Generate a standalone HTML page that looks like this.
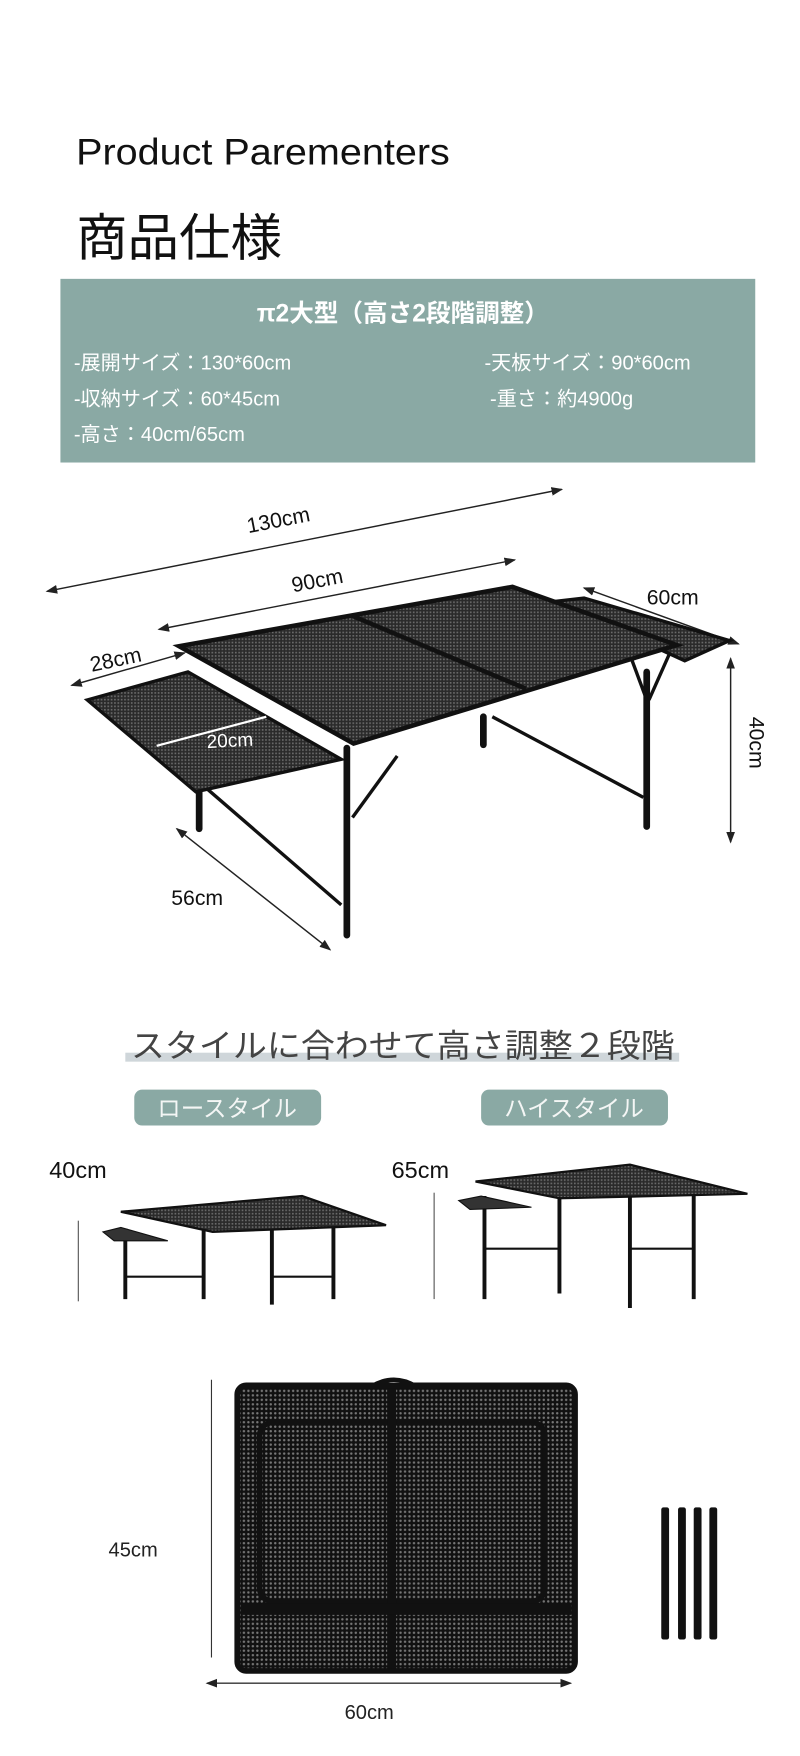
<!DOCTYPE html>
<html><head><meta charset="utf-8"><style>
html,body{margin:0;padding:0;background:#fff;}
svg{display:block;}
text{font-family:"Liberation Sans","Noto Sans CJK JP",sans-serif;}
</style></head><body>
<svg width="800" height="1756" viewBox="0 0 715 1568" preserveAspectRatio="none" xmlns="http://www.w3.org/2000/svg">
<defs>
<pattern id="mesh" width="3" height="3" patternUnits="userSpaceOnUse"><rect width="3" height="3" fill="#2a2a2a"/><rect width="1.5" height="1.5" fill="#6a6a6a"/></pattern>
<pattern id="mesh2" width="4" height="4" patternUnits="userSpaceOnUse"><rect width="4" height="4" fill="#111"/><circle cx="2" cy="2" r="1.1" fill="#777"/></pattern>
<marker id="ar" markerWidth="8" markerHeight="8" refX="7" refY="4" orient="auto"><path d="M0,1 L8,4 L0,7z" fill="#222"/></marker>
<marker id="al" markerWidth="8" markerHeight="8" refX="1" refY="4" orient="auto"><path d="M8,1 L0,4 L8,7z" fill="#222"/></marker>
</defs>
<rect width="715" height="1568" fill="#fff"/>
<text x="68" y="147" font-size="33" fill="#111" textLength="334" lengthAdjust="spacingAndGlyphs">Product Parementers</text>
<text x="68" y="228" font-size="45" fill="#111" textLength="184" lengthAdjust="spacingAndGlyphs">商品仕様</text>
<rect x="54" y="249" width="621" height="164" fill="#8aa9a4"/>
<text x="360" y="287" font-size="22" font-weight="bold" fill="#fff" text-anchor="middle">π2大型（高さ2段階調整）</text>
<g font-size="18" fill="#fff">
<text x="66" y="330">-展開サイズ：130*60cm</text>
<text x="433" y="330">-天板サイズ：90*60cm</text>
<text x="66" y="362">-収納サイズ：60*45cm</text>
<text x="438" y="362">-重さ：約4900g</text>
<text x="66" y="394">-高さ：40cm/65cm</text>
</g>
<g stroke="#222" stroke-width="1.3" fill="none">
<line x1="42" y1="528" x2="502" y2="437" marker-start="url(#al)" marker-end="url(#ar)"/>
<line x1="142" y1="562" x2="460" y2="500" marker-start="url(#al)" marker-end="url(#ar)"/>
<line x1="522" y1="525" x2="660" y2="575" marker-start="url(#al)" marker-end="url(#ar)"/>
<line x1="64" y1="612" x2="165" y2="583" marker-start="url(#al)" marker-end="url(#ar)"/>
<line x1="653" y1="588" x2="653" y2="752" marker-start="url(#al)" marker-end="url(#ar)"/>
<line x1="158" y1="740" x2="295" y2="848" marker-start="url(#al)" marker-end="url(#ar)"/>
</g>
<g font-size="19" fill="#111">
<text x="222" y="476" transform="rotate(-11 222 476)">130cm</text>
<text x="262" y="529" transform="rotate(-11 262 529)">90cm</text>
<text x="578" y="540">60cm</text>
<text x="82" y="600" transform="rotate(-12 82 600)">28cm</text>
<text x="153" y="808">56cm</text>
<text x="670" y="640" transform="rotate(90 670 640)">40cm</text>
</g>
<g stroke="#111" stroke-width="6" stroke-linecap="round">
<line x1="178" y1="705" x2="178" y2="740"/>
<line x1="310" y1="668" x2="310" y2="835"/>
<line x1="432" y1="640" x2="432" y2="665"/>
<line x1="578" y1="600" x2="578" y2="738"/>
</g>
<g stroke="#111" stroke-width="3">
<line x1="180" y1="700" x2="305" y2="808"/>
<line x1="440" y1="640" x2="575" y2="712"/>
<line x1="355" y1="675" x2="315" y2="730"/>
<line x1="565" y1="590" x2="578" y2="625"/>
<line x1="600" y1="580" x2="580" y2="625"/>
</g>
<polygon points="78,625 168,600 305,678 175,707" fill="url(#mesh)" stroke="#111" stroke-width="3"/>
<polygon points="496,537 522,534 652,572 612,590" fill="url(#mesh)" stroke="#111" stroke-width="3"/>
<polygon points="160,577 458,524 605,576 316,664" fill="url(#mesh)" stroke="#111" stroke-width="4"/>
<line x1="315" y1="550" x2="470" y2="615" stroke="#111" stroke-width="4"/>
<line x1="140" y1="666" x2="238" y2="640" stroke="#fff" stroke-width="2"/>
<text x="185" y="668" font-size="17" fill="#fff" transform="rotate(-3 185 668)">20cm</text>
<rect x="112" y="940" width="495" height="8" fill="#cfd6da"/>
<text x="360" y="944" font-size="29" fill="#444" text-anchor="middle" textLength="486" lengthAdjust="spacingAndGlyphs">スタイルに合わせて高さ調整２段階</text>
<rect x="120" y="973" width="167" height="32" rx="7" fill="#8aa9a4"/>
<text x="203" y="997" font-size="21" fill="#f4f6f5" text-anchor="middle">ロースタイル</text>
<rect x="430" y="973" width="167" height="32" rx="7" fill="#8aa9a4"/>
<text x="513" y="997" font-size="21" fill="#f4f6f5" text-anchor="middle">ハイスタイル</text>
<text x="44" y="1052" font-size="21" fill="#111">40cm</text>
<text x="350" y="1052" font-size="21" fill="#111">65cm</text>
<line x1="70" y1="1090" x2="70" y2="1162" stroke="#555" stroke-width="1"/>
<line x1="388" y1="1065" x2="388" y2="1160" stroke="#555" stroke-width="1"/>
<g stroke="#111" stroke-width="3.5">
<line x1="112" y1="1097" x2="112" y2="1160"/><line x1="182" y1="1097" x2="182" y2="1160"/>
<line x1="243" y1="1085" x2="243" y2="1165"/><line x1="298" y1="1090" x2="298" y2="1160"/>
<line x1="112" y1="1140" x2="182" y2="1140" stroke-width="2"/><line x1="243" y1="1140" x2="298" y2="1140" stroke-width="2"/>
</g>
<polygon points="92,1100 108,1096 150,1108 102,1108" fill="#333" stroke="#111"/>
<polygon points="108,1082 270,1068 345,1094 190,1100" fill="url(#mesh)" stroke="#111" stroke-width="2"/>
<g stroke="#111" stroke-width="3.5">
<line x1="433" y1="1068" x2="433" y2="1160"/><line x1="500" y1="1068" x2="500" y2="1155"/>
<line x1="563" y1="1055" x2="563" y2="1168"/><line x1="620" y1="1060" x2="620" y2="1160"/>
<line x1="433" y1="1115" x2="500" y2="1115" stroke-width="2"/><line x1="563" y1="1115" x2="620" y2="1115" stroke-width="2"/>
</g>
<polygon points="410,1072 430,1068 475,1078 420,1080" fill="#333" stroke="#111"/>
<polygon points="425,1055 563,1040 668,1066 500,1070" fill="url(#mesh)" stroke="#111" stroke-width="2"/>
<line x1="189" y1="1232" x2="189" y2="1480" stroke="#333" stroke-width="1"/>
<line x1="185" y1="1503" x2="510" y2="1503" stroke="#333" stroke-width="1.3" marker-start="url(#al)" marker-end="url(#ar)"/>
<text x="97" y="1390" font-size="18" fill="#222">45cm</text>
<text x="308" y="1535" font-size="18" fill="#222">60cm</text>
<path d="M332,1238 q20,-12 40,0" stroke="#111" stroke-width="4" fill="none"/>
<rect x="212" y="1237" width="302" height="255" rx="8" fill="url(#mesh2)" stroke="#111" stroke-width="5"/>
<rect x="232" y="1270" width="255" height="160" rx="12" fill="none" stroke="#111" stroke-width="5"/>
<rect x="346" y="1240" width="8" height="250" fill="#111"/>
<rect x="215" y="1432" width="296" height="10" fill="#111"/>
<g fill="#111">
<rect x="591" y="1346" width="7" height="118" rx="2"/><rect x="606" y="1346" width="7" height="118" rx="2"/>
<rect x="620" y="1346" width="7" height="118" rx="2"/><rect x="634" y="1346" width="7" height="118" rx="2"/>
</g>
</svg>
</body></html>
